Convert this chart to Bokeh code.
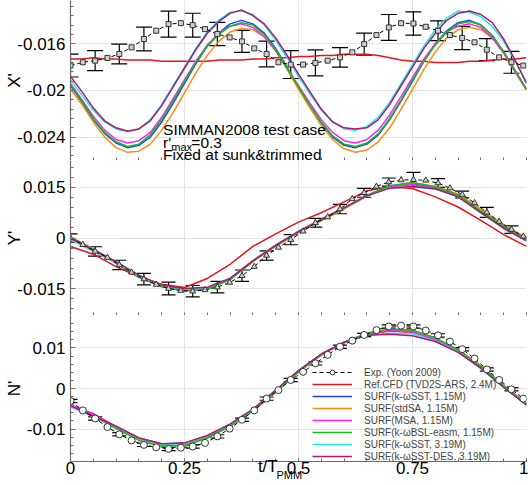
from bokeh.plotting import figure
from bokeh.models import (Range1d, FixedTicker, Whisker, ColumnDataSource, Label,
                          Legend, LegendItem, CustomJSTickFormatter, LinearAxis)
from bokeh.layouts import column
from bokeh.embed import file_html
from bokeh.resources import INLINE
import numpy as np

# ---------------- data ----------------
t_top = [0.0, 0.025, 0.05, 0.075, 0.1, 0.125, 0.15, 0.175, 0.2, 0.225, 0.25, 0.275, 0.3, 0.325,
         0.35, 0.375, 0.4, 0.425, 0.45, 0.475, 0.5, 0.525, 0.55, 0.575, 0.6, 0.625, 0.65, 0.675,
         0.7, 0.725, 0.75, 0.775, 0.8, 0.825, 0.85, 0.875, 0.9, 0.925, 0.95, 0.975, 1.0]
t_mid = [0.0, 0.05, 0.1, 0.15, 0.2, 0.25, 0.3, 0.35, 0.4, 0.45, 0.5, 0.55, 0.6, 0.65, 0.7,
         0.75, 0.8, 0.85, 0.9, 0.95, 1.0]
t_exp = [0.0, 0.027, 0.054, 0.081, 0.107, 0.134, 0.161, 0.188, 0.215, 0.242, 0.268, 0.295,
         0.322, 0.349, 0.376, 0.403, 0.430, 0.456, 0.483, 0.510, 0.537, 0.564, 0.591, 0.618,
         0.644, 0.671, 0.698, 0.725, 0.752, 0.779, 0.806, 0.832, 0.859, 0.886, 0.913, 0.940,
         0.967, 0.993]

# X' (top panel)
x_red = [-0.0173, -0.0173, -0.0172, -0.0173, -0.0173, -0.0174, -0.0174, -0.0174, -0.0175, -0.0175,
         -0.0175, -0.0175, -0.0175, -0.0174, -0.0174, -0.0174, -0.0173, -0.0173, -0.0172, -0.0172,
         -0.0171, -0.0171, -0.0170, -0.0170, -0.0169, -0.0169, -0.0169, -0.0170, -0.0172, -0.0174,
         -0.0175, -0.0175, -0.0176, -0.0176, -0.0176, -0.0175, -0.0175, -0.0174, -0.0173, -0.0173,
         -0.0172]
x_blue = [-0.0196, -0.0210, -0.0225, -0.0237, -0.0245, -0.0249, -0.0247, -0.0240, -0.0227, -0.0211,
          -0.0194, -0.0177, -0.0162, -0.0151, -0.0143, -0.0140, -0.0143, -0.0151, -0.0164, -0.0180,
          -0.0197, -0.0213, -0.0228, -0.0240, -0.0247, -0.0249, -0.0246, -0.0238, -0.0225, -0.0209,
          -0.0192, -0.0175, -0.0160, -0.0149, -0.0142, -0.0140, -0.0144, -0.0153, -0.0167, -0.0183,
          -0.0199]
x_orange = [-0.0199, -0.0212, -0.0227, -0.0240, -0.0249, -0.0253, -0.0252, -0.0246, -0.0234, -0.0219,
            -0.0202, -0.0185, -0.0170, -0.0158, -0.0150, -0.0147, -0.0148, -0.0154, -0.0166, -0.0182,
            -0.0199, -0.0215, -0.0230, -0.0242, -0.0250, -0.0253, -0.0251, -0.0244, -0.0232, -0.0216,
            -0.0199, -0.0182, -0.0167, -0.0155, -0.0148, -0.0146, -0.0148, -0.0155, -0.0168, -0.0184,
            -0.0200]
x_magenta = [-0.0194, -0.0208, -0.0222, -0.0234, -0.0242, -0.0245, -0.0243, -0.0236, -0.0223, -0.0207,
             -0.0191, -0.0175, -0.0161, -0.0151, -0.0145, -0.0143, -0.0146, -0.0154, -0.0166, -0.0181,
             -0.0196, -0.0211, -0.0225, -0.0236, -0.0243, -0.0245, -0.0242, -0.0234, -0.0221, -0.0205,
             -0.0189, -0.0173, -0.0160, -0.0150, -0.0145, -0.0143, -0.0146, -0.0155, -0.0168, -0.0184,
             -0.0199]
x_green = [-0.0195, -0.0209, -0.0224, -0.0236, -0.0244, -0.0248, -0.0246, -0.0238, -0.0225, -0.0209,
           -0.0192, -0.0176, -0.0162, -0.0152, -0.0145, -0.0142, -0.0144, -0.0152, -0.0165, -0.0181,
           -0.0197, -0.0213, -0.0227, -0.0239, -0.0246, -0.0248, -0.0245, -0.0237, -0.0224, -0.0208,
           -0.0191, -0.0175, -0.0161, -0.0150, -0.0143, -0.0141, -0.0144, -0.0153, -0.0167, -0.0183,
           -0.0199]
x_cyan = [-0.0191, -0.0204, -0.0217, -0.0227, -0.0233, -0.0235, -0.0233, -0.0225, -0.0212, -0.0196,
          -0.0180, -0.0164, -0.0150, -0.0140, -0.0133, -0.0132, -0.0135, -0.0144, -0.0157, -0.0172,
          -0.0188, -0.0203, -0.0217, -0.0227, -0.0233, -0.0234, -0.0231, -0.0223, -0.0210, -0.0194,
          -0.0178, -0.0162, -0.0148, -0.0138, -0.0132, -0.0133, -0.0137, -0.0145, -0.0158, -0.0175,
          -0.0193]
x_purple = [-0.0188, -0.0201, -0.0215, -0.0226, -0.0232, -0.0235, -0.0233, -0.0226, -0.0213, -0.0197,
            -0.0181, -0.0165, -0.0151, -0.0141, -0.0134, -0.0131, -0.0136, -0.0143, -0.0155, -0.0170,
            -0.0186, -0.0201, -0.0216, -0.0227, -0.0232, -0.0233, -0.0232, -0.0225, -0.0212, -0.0196,
            -0.0180, -0.0164, -0.0151, -0.0140, -0.0134, -0.0132, -0.0135, -0.0142, -0.0156, -0.0174,
            -0.0194]
x_exp = [-0.01787, -0.01759, -0.01745, -0.01722, -0.01688, -0.01631, -0.0156, -0.01489, -0.01432,
         -0.01424, -0.01441, -0.01475, -0.01517, -0.01546, -0.0158, -0.0164, -0.01688, -0.01759,
         -0.01779, -0.01779, -0.01764, -0.01745, -0.01717, -0.01674, -0.01603, -0.01526, -0.01461,
         -0.01424, -0.01427, -0.01455, -0.01489, -0.01526, -0.01551, -0.01588, -0.01651, -0.01717,
         -0.01759, -0.01787]
x_exp_err = [0.00098, 0.00085, 0.00085, 0.00102, 0.00111, 0.00102, 0.00100, 0.00094, 0.00111, 0.00119,
             0.00111, 0.00083, 0.00094, 0.00111, 0.00100, 0.00085, 0.00100, 0.00094, 0.00094]

# Y' (middle panel)
y_red = [-0.0025, -0.0048, -0.0085, -0.0115, -0.0137, -0.0147, -0.0120, -0.0078, -0.0025, 0.0012,
         0.0047, 0.0075, 0.0107, 0.0140, 0.0152, 0.0147, 0.0122, 0.0092, 0.0052, 0.0010, -0.0025]
y_blue = [0.0000, -0.0035, -0.0075, -0.0116, -0.0144, -0.0155, -0.0150, -0.0122, -0.0068, -0.0022,
          0.0019, 0.0054, 0.0089, 0.0126, 0.0154, 0.0162, 0.0150, 0.0126, 0.0079, 0.0033, -0.0004]
y_orange = [0.0003, -0.0032, -0.0072, -0.0115, -0.0144, -0.0156, -0.0151, -0.0123, -0.0070, -0.0025,
            0.0016, 0.0051, 0.0086, 0.0124, 0.0153, 0.0164, 0.0153, 0.0131, 0.0085, 0.0040, 0.0000]
y_magenta = [0.0002, -0.0033, -0.0072, -0.0113, -0.0142, -0.0153, -0.0148, -0.0120, -0.0067, -0.0021,
             0.0020, 0.0055, 0.0089, 0.0126, 0.0152, 0.0158, 0.0148, 0.0125, 0.0077, 0.0030, -0.0005]
y_green = [0.0000, -0.0034, -0.0074, -0.0117, -0.0145, -0.0157, -0.0152, -0.0124, -0.0069, -0.0023,
           0.0018, 0.0053, 0.0088, 0.0126, 0.0155, 0.0165, 0.0152, 0.0128, 0.0080, 0.0035, -0.0002]
y_cyan = [-0.0005, -0.0040, -0.0074, -0.0112, -0.0141, -0.0152, -0.0148, -0.0120, -0.0067, -0.0021,
          0.0020, 0.0055, 0.0090, 0.0125, 0.0148, 0.0152, 0.0145, 0.0122, 0.0074, 0.0028, -0.0010]
y_purple = [0.0000, -0.0036, -0.0070, -0.0110, -0.0140, -0.0150, -0.0146, -0.0120, -0.0068, -0.0022,
            0.0019, 0.0055, 0.0090, 0.0125, 0.0148, 0.0153, 0.0146, 0.0122, 0.0075, 0.0029, -0.0008]
y_exp = [0.0000, -0.0020, -0.0040, -0.0058, -0.0080, -0.0102, -0.0122, -0.0138, -0.0150, -0.0156,
         -0.0158, -0.0154, -0.0146, -0.0132, -0.0112, -0.0085, -0.0052, -0.0028, -0.0005, 0.0020,
         0.0045, 0.0062, 0.0086, 0.0116, 0.0134, 0.0153, 0.0166, 0.0172, 0.0173, 0.0171, 0.0163,
         0.0148, 0.0129, 0.0104, 0.0076, 0.0049, 0.0025, 0.0005]
y_exp_err = [0.0012, 0.0014, 0.0014, 0.0017, 0.0019, 0.0017, 0.0017, 0.0017, 0.0014, 0.0015,
             0.0013, 0.0014, 0.0013, 0.0012, 0.0022, 0.0013, 0.0010, 0.0015, 0.0011]

# N' (bottom panel)
n_red = [-0.0041, -0.0062, -0.0094, -0.0122, -0.0137, -0.0135, -0.0117, -0.0088, -0.0052, -0.0005,
         0.0044, 0.0084, 0.0113, 0.0133, 0.0142, 0.0139, 0.0120, 0.0092, 0.0051, 0.0004, -0.0039]
n_blue = [-0.0042, -0.0065, -0.0096, -0.0124, -0.0139, -0.0138, -0.0120, -0.0092, -0.0055, -0.0008,
          0.0042, 0.0083, 0.0113, 0.0134, 0.0145, 0.0141, 0.0122, 0.0094, 0.0053, 0.0005, -0.0038]
n_orange = [-0.0042, -0.0066, -0.0097, -0.0125, -0.0140, -0.0139, -0.0121, -0.0093, -0.0056, -0.0009,
            0.0041, 0.0082, 0.0113, 0.0135, 0.0146, 0.0143, 0.0124, 0.0096, 0.0055, 0.0007, -0.0037]
n_magenta = [-0.0040, -0.0064, -0.0095, -0.0123, -0.0138, -0.0136, -0.0118, -0.0090, -0.0053, -0.0006,
             0.0043, 0.0084, 0.0114, 0.0135, 0.0143, 0.0139, 0.0120, 0.0092, 0.0051, 0.0003, -0.0040]
n_green = [-0.0044, -0.0068, -0.0099, -0.0128, -0.0143, -0.0141, -0.0122, -0.0093, -0.0056, -0.0009,
           0.0041, 0.0083, 0.0114, 0.0136, 0.0147, 0.0144, 0.0125, 0.0096, 0.0055, 0.0007, -0.0037]
n_cyan = [-0.0045, -0.0070, -0.0094, -0.0124, -0.0138, -0.0136, -0.0117, -0.0089, -0.0052, -0.0005,
          0.0044, 0.0084, 0.0113, 0.0131, 0.0136, 0.0135, 0.0118, 0.0090, 0.0049, 0.0002, -0.0040]
n_purple = [-0.0043, -0.0068, -0.0093, -0.0122, -0.0136, -0.0134, -0.0116, -0.0088, -0.0051, -0.0004,
            0.0044, 0.0085, 0.0114, 0.0131, 0.0134, 0.0130, 0.0116, 0.0089, 0.0050, 0.0003, -0.0041]
n_exp = [-0.0031, -0.0054, -0.0074, -0.0095, -0.0113, -0.0128, -0.0139, -0.0145, -0.0149, -0.0146,
         -0.0143, -0.0134, -0.0118, -0.0099, -0.0077, -0.0054, -0.0025, -0.0004, 0.0021, 0.0041,
         0.0062, 0.0083, 0.0103, 0.0118, 0.0132, 0.0144, 0.0153, 0.0155, 0.0153, 0.0143, 0.0131,
         0.0116, 0.0097, 0.0074, 0.0047, 0.0021, -0.0002, -0.0025]
n_exp_err = [0.0004, 0.0004, 0.0004, 0.0004, 0.0004, 0.0004, 0.0004, 0.0004, 0.0004, 0.0004,
             0.0004, 0.0004, 0.0004, 0.0004, 0.0004, 0.0004, 0.0004, 0.0004, 0.0004]

series_labels = ["Ref.CFD (TVD2S-ARS, 2.4M)", "SURF(k-\u03c9SST, 1.15M)", "SURF(stdSA, 1.15M)",
                 "SURF(MSA, 1.15M)", "SURF(k-\u03c9BSL-easm, 1.15M)", "SURF(k-\u03c9SST, 3.19M)",
                 "SURF(k-\u03c9SST-DES, 3.19M)"]
series_colors = ["#e8141a", "#2a3cff", "#ff8a10", "#ff20ff", "#10c010", "#20e8e8", "#b01870"]
exp_label = "Exp. (Yoon 2009)"

x_ticks = [0, 0.25, 0.5, 0.75, 1]
top_ticks = [-0.024, -0.02, -0.016]
mid_ticks = [-0.015, 0, 0.015]
bot_ticks = [-0.01, 0, 0.01]

# ---------------- styling helpers ----------------
FONT = "Liberation Sans"
AX = "#6a6a6a"
GRID = "#e4e4e4"
NB = "\u00a0"
xminor = [round(v, 3) for v in np.arange(0, 1.0001, 0.05)]


def panel(fh, yr, yticks, ystep, ylabel, label_standoff, bottom=0):
    p = figure(frame_width=456, frame_height=fh, x_range=Range1d(0, 1), y_range=Range1d(*yr),
               output_backend="svg", toolbar_location=None,
               min_border_left=70, min_border_right=2, min_border_top=0,
               min_border_bottom=bottom)
    p.outline_line_color = None
    ym = np.arange(yticks[0] - 2 * ystep, yticks[-1] + 2 * ystep + 1e-12, ystep / 5)
    yminor = [round(float(v), 6) for v in ym if yr[0] <= v <= yr[1]]
    p.xaxis.ticker = FixedTicker(ticks=[], minor_ticks=xminor)
    p.yaxis.ticker = FixedTicker(ticks=yticks, minor_ticks=yminor)
    p.xgrid.ticker = FixedTicker(ticks=x_ticks)
    p.ygrid.ticker = FixedTicker(ticks=yticks)
    p.xgrid.grid_line_color = GRID
    p.ygrid.grid_line_color = GRID
    for ax in (p.xaxis[0], p.yaxis[0]):
        ax.axis_line_color = AX
        ax.axis_line_width = 1.2
        ax.major_tick_line_color = AX
        ax.minor_tick_line_color = AX
        ax.major_tick_in = 5
        ax.major_tick_out = 0
        ax.minor_tick_in = 3
        ax.minor_tick_out = 0
        ax.major_label_standoff = 0
        ax.formatter = CustomJSTickFormatter(code="return String(tick);")
        ax.major_label_text_font = FONT
        ax.major_label_text_font_size = "17px"
        ax.major_label_text_color = "black"
    p.yaxis.major_label_standoff = 5
    p.yaxis.axis_label = ylabel
    p.yaxis.axis_label_text_font = FONT
    p.yaxis.axis_label_text_font_size = "17px"
    p.yaxis.axis_label_text_font_style = "normal"
    p.yaxis.axis_label_text_color = "black"
    p.yaxis.axis_label_standoff = label_standoff
    return p


def draw(p, t, curves, te, ye, yerr, marker, msize, head):
    rends = []
    for vals, col in zip(curves, series_colors):
        rends.append(p.line(t, vals, line_color=col, line_width=1.5))
    el = p.line(te, ye, line_color="black", line_width=1, line_dash="4 3")
    es = p.scatter(te, ye, marker=marker, size=msize, line_color="#333333",
                   fill_color="#cfcfcf" if marker != "circle" else "white", line_width=1)
    tb = te[::2]
    yb = ye[::2]
    src = ColumnDataSource(dict(x=tb, lo=[a - b for a, b in zip(yb, yerr)],
                                hi=[a + b for a, b in zip(yb, yerr)]))
    w = Whisker(base="x", lower="lo", upper="hi", source=src, dimension="height",
                line_color="black", line_width=1.2)
    w.upper_head.size = head
    w.lower_head.size = head
    w.upper_head.line_width = 1.2
    w.lower_head.line_width = 1.2
    p.add_layout(w)
    return rends, el, es


p1 = panel(160, (-0.026, -0.0123), top_ticks, 0.004, "X'", -10)
draw(p1, t_top, [x_red, x_blue, x_orange, x_magenta, x_green, x_cyan, x_purple],
     t_exp, x_exp, x_exp_err, "square", 5, 16)
for txt, xx, yy, fs in [("SIMMAN2008 test case", 0.203, -0.02337, "15.5px"),
                        ("r'", 0.203, -0.02446, "15.5px"),
                        ("max", 0.221, -0.02484, "11px"),
                        ("=0.3", 0.265, -0.02446, "15.5px"),
                        ("Fixed at sunk&trimmed", 0.203, -0.02552, "15.5px")]:
    p1.add_layout(Label(x=xx, y=yy, text=txt, text_font=FONT, text_font_size=fs,
                        text_baseline="alphabetic", text_color="black"))

p2 = panel(155, (-0.023, 0.023), mid_ticks, 0.015, "Y'", -10)
draw(p2, t_mid, [y_red, y_blue, y_orange, y_magenta, y_green, y_cyan, y_purple],
     t_exp, y_exp, y_exp_err, "triangle", 6, 14)

p3 = panel(146, (-0.018, 0.018), bot_ticks, 0.01, "N'", 0, bottom=24)
rends, el, es = draw(p3, t_mid, [n_red, n_blue, n_orange, n_magenta, n_green, n_cyan, n_purple],
                     t_exp, n_exp, n_exp_err, "circle", 7, 14)
# bottom axis carries the tick labels and the title t/T_PMM
xa = p3.xaxis[0]
xa.ticker = FixedTicker(ticks=x_ticks, minor_ticks=xminor)
xa.major_tick_in = 3
xa.axis_label = "t/T" + NB * 13
xa.axis_label_text_font = FONT
xa.axis_label_text_font_size = "17px"
xa.axis_label_text_font_style = "normal"
xa.axis_label_text_color = "black"
xa.axis_label_standoff = -20
sub = LinearAxis(ticker=FixedTicker(ticks=[], minor_ticks=[]), axis_line_color=None,
                 major_label_standoff=0, axis_label="PMM" + NB * 6,
                 axis_label_text_font=FONT, axis_label_text_font_size="11px",
                 axis_label_text_font_style="normal", axis_label_text_color="black",
                 axis_label_standoff=-10)
p3.add_layout(sub, "below")

items = [LegendItem(label=exp_label, renderers=[el, es])]
for r, lab in zip(rends, series_labels):
    items.append(LegendItem(label=lab, renderers=[r]))
legend = Legend(items=items, location=(242, -1), orientation="vertical")
legend.glyph_width = 40
legend.glyph_height = 12
legend.label_height = 12
legend.spacing = 0
legend.padding = 0
legend.margin = 0
legend.label_standoff = 12
legend.label_text_font = FONT
legend.label_text_font_size = "10px"
legend.background_fill_alpha = 0
legend.border_line_alpha = 0
p3.add_layout(legend)

layout = column(p1, p2, p3, spacing=0)
open("out.html", "w").write(file_html(layout, INLINE))
